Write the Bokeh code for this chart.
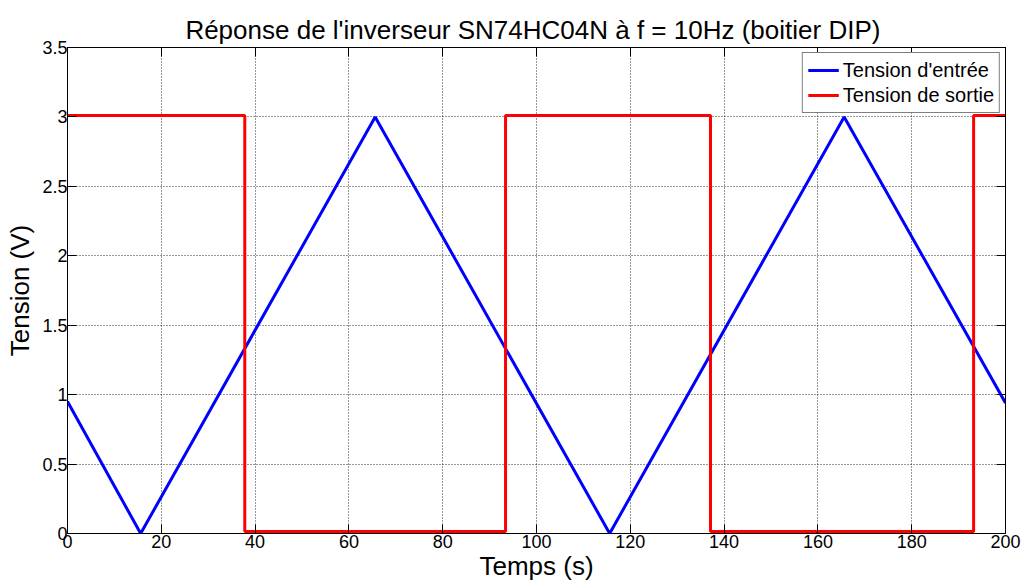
from bokeh.plotting import figure
from bokeh.models import LinearAxis, Range1d, FixedTicker, Legend, LegendItem
from bokeh.embed import file_html
from bokeh.resources import INLINE

# --- data ---
blue_t = [0, 15.6, 65.6, 115.6, 165.6, 200]
blue_v = [0.95, 0.0, 3.0, 0.0, 3.0, 0.94]

red_edges = [0, 37.8, 93.4, 137.1, 193.2, 200]
red_levels = [3.01, 0.015, 3.01, 0.015, 3.01]

x_ticks = [0, 20, 40, 60, 80, 100, 120, 140, 160, 180, 200]
y_ticks = [0, 0.5, 1, 1.5, 2, 2.5, 3, 3.5]
y_labels = {0: "0", 0.5: "0.5", 1: "1", 1.5: "1.5", 2: "2", 2.5: "2.5", 3: "3", 3.5: "3.5"}

title = "Réponse de l'inverseur SN74HC04N à f =  10Hz (boitier DIP)"
FONT = "Liberation Sans"

red_t, red_v = [], []
for i, lvl in enumerate(red_levels):
    red_t += [red_edges[i], red_edges[i + 1]]
    red_v += [lvl, lvl]

p = figure(width=1021, height=583, output_backend="svg", toolbar_location=None,
           x_range=Range1d(0, 200), y_range=Range1d(0, 3.5),
           min_border_left=67, min_border_right=16, min_border_top=47, min_border_bottom=49)

p.title.text = title
p.title.align = "center"
p.title.vertical_align = "top"
p.title.text_font = FONT
p.title.text_font_size = "26px"
p.title.text_font_style = "normal"
p.title.text_color = "black"
p.title.text_line_height = 0.7
p.title.standoff = 2

p.background_fill_color = "white"
p.border_fill_color = "white"
p.outline_line_color = "black"
p.outline_line_width = 1

def style_axis(ax, show_labels=True):
    ax.axis_line_color = "black"
    ax.major_tick_line_color = "black"
    ax.major_tick_in = 9
    ax.major_tick_out = 0
    ax.minor_tick_line_color = None
    ax.major_label_text_font = FONT
    ax.major_label_text_color = "black"
    if show_labels:
        ax.major_label_text_font_size = "18px"
    else:
        ax.major_label_text_font_size = "0px"
        ax.major_label_text_alpha = 0
    ax.axis_label_text_font = FONT
    ax.axis_label_text_font_size = "26px"
    ax.axis_label_text_font_style = "normal"
    ax.axis_label_text_color = "black"

xa = p.xaxis[0]
ya = p.yaxis[0]
xa.ticker = FixedTicker(ticks=x_ticks)
ya.ticker = FixedTicker(ticks=y_ticks)
ya.major_label_overrides = y_labels
xa.axis_label = "Temps (s)"
ya.axis_label = "Tension (V)"
style_axis(xa)
style_axis(ya)
xa.major_label_standoff = 1
ya.major_label_standoff = 0
xa.axis_label_standoff = 0
ya.axis_label_standoff = 4

top = LinearAxis(ticker=FixedTicker(ticks=x_ticks))
right = LinearAxis(ticker=FixedTicker(ticks=y_ticks))
style_axis(top, False)
style_axis(right, False)
top.major_label_standoff = 0
right.major_label_standoff = 0
p.add_layout(top, "above")
p.add_layout(right, "right")

p.xgrid[0].ticker = FixedTicker(ticks=x_ticks)
p.ygrid[0].ticker = FixedTicker(ticks=y_ticks)
for g in (p.xgrid[0], p.ygrid[0]):
    g.grid_line_color = "black"
    g.grid_line_dash = "1 2"
    g.grid_line_width = 1
    g.grid_line_alpha = 0.8

r_blue = p.line(blue_t, blue_v, line_color="#0000ff", line_width=3)
r_red = p.line(red_t, red_v, line_color="#ff0000", line_width=3)

legend = Legend(items=[LegendItem(label="Tension d'entrée", renderers=[r_blue]),
                       LegendItem(label="Tension de sortie", renderers=[r_red])],
                location="top_right")
legend.label_text_font = FONT
legend.label_text_font_size = "20px"
legend.label_text_color = "black"
legend.border_line_color = "black"
legend.border_line_width = 1.5
legend.background_fill_color = "white"
legend.background_fill_alpha = 1
legend.margin = 5
legend.padding = 5
legend.spacing = 1
legend.glyph_width = 31
legend.glyph_height = 24
legend.label_height = 24
legend.label_standoff = 4
p.add_layout(legend, "center")

open("out.html", "w").write(file_html(p, INLINE))
